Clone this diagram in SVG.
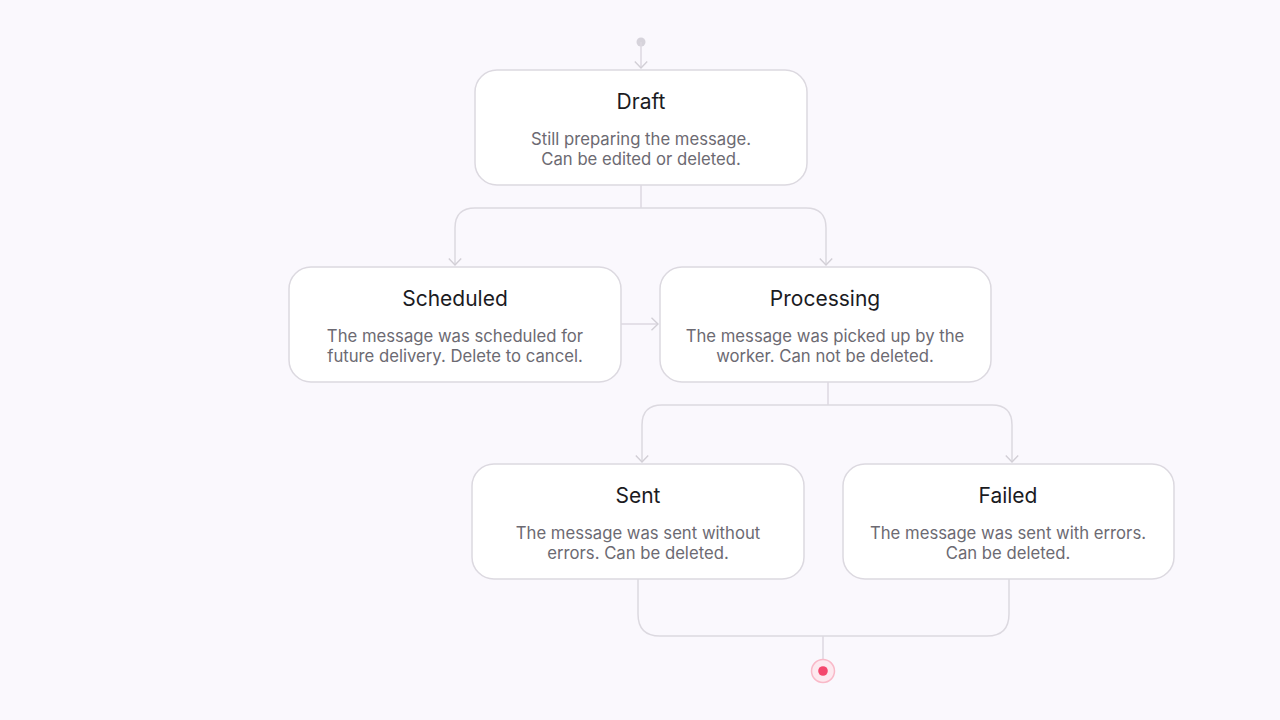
<svg xmlns="http://www.w3.org/2000/svg" width="1280" height="720" viewBox="0 0 1280 720">
<defs>
<style>
.box{fill:#ffffff;stroke:#dcd9e0;stroke-width:1.5}
.t{font-family:Inter,"Noto Sans","Liberation Sans",sans-serif;font-size:21px;fill:#1b1b1f;text-anchor:middle}
.d{font-family:Inter,"Noto Sans","Liberation Sans",sans-serif;font-size:16.7px;fill:#6c6a72;text-anchor:middle}
.c{fill:none;stroke:#dcd9e0;stroke-width:1.5}
</style>
<marker id="arr" viewBox="0 0 12 14" refX="11" refY="7" markerWidth="12" markerHeight="14" markerUnits="userSpaceOnUse" orient="auto">
<path d="M4.5 0.8 L11 7 L4.5 13.2" fill="none" stroke="#d2cfd6" stroke-width="1.4"/>
</marker>
</defs>
<rect width="1280" height="720" fill="#faf8fd"/>
<g id="connectors">
<circle cx="641" cy="42" r="4.5" fill="#d6d3db"/>
<path class="c" d="M641 42 V68" marker-end="url(#arr)"/>
<path class="c" d="M641 185 V208"/>
<path class="c" d="M641 208 H475 Q455 208 455 228 V265" marker-end="url(#arr)"/>
<path class="c" d="M641 208 H806 Q826 208 826 228 V265" marker-end="url(#arr)"/>
<path class="c" d="M621 324 H658" marker-end="url(#arr)"/>
<path class="c" d="M828 382 V405"/>
<path class="c" d="M828 405 H662 Q642 405 642 425 V462" marker-end="url(#arr)"/>
<path class="c" d="M828 405 H992 Q1012 405 1012 425 V462" marker-end="url(#arr)"/>
<path class="c" d="M638 579 V614 Q638 636 660 636 H987 Q1009 636 1009 614 V579"/>
<path class="c" d="M823 636 V659"/>
</g>
<g id="draft">
<rect class="box" x="475" y="70" width="332" height="115" rx="22"/>
<text class="t" x="641" y="109">Draft</text>
<text class="d" x="641" y="145">Still preparing the message.</text>
<text class="d" x="641" y="165">Can be edited or deleted.</text>
</g>
<g id="scheduled">
<rect class="box" x="289" y="267" width="332" height="115" rx="22"/>
<text class="t" x="455" y="306">Scheduled</text>
<text class="d" x="455" y="342">The message was scheduled for</text>
<text class="d" x="455" y="362">future delivery. Delete to cancel.</text>
</g>
<g id="processing">
<rect class="box" x="660" y="267" width="331" height="115" rx="22"/>
<text class="t" x="825" y="306">Processing</text>
<text class="d" x="825" y="342">The message was picked up by the</text>
<text class="d" x="825" y="362">worker. Can not be deleted.</text>
</g>
<g id="sent">
<rect class="box" x="472" y="464" width="332" height="115" rx="22"/>
<text class="t" x="638" y="503">Sent</text>
<text class="d" x="638" y="539">The message was sent without</text>
<text class="d" x="638" y="559">errors. Can be deleted.</text>
</g>
<g id="failed">
<rect class="box" x="843" y="464" width="331" height="115" rx="22"/>
<text class="t" x="1008" y="503">Failed</text>
<text class="d" x="1008" y="539">The message was sent with errors.</text>
<text class="d" x="1008" y="559">Can be deleted.</text>
</g>
<g id="end">
<circle cx="823" cy="671" r="11.5" fill="#fde9ef" stroke="#f9b9c8" stroke-width="1.5"/>
<circle cx="823" cy="671" r="4.8" fill="#f4476c"/>
</g>
</svg>
